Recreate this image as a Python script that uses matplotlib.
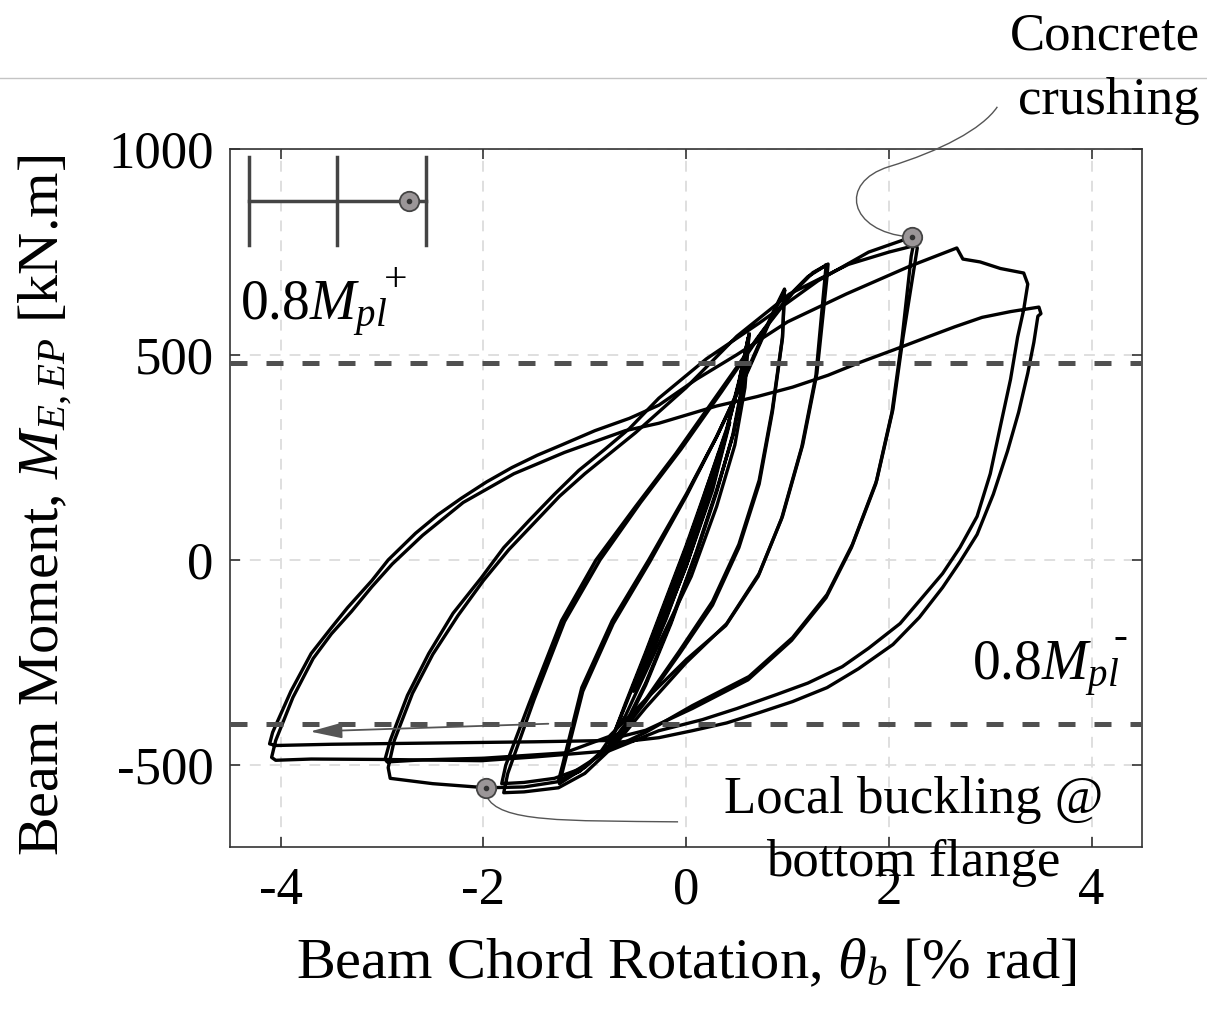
import numpy as np
import matplotlib
matplotlib.use("Agg")
import matplotlib.pyplot as plt
from matplotlib.path import Path
from matplotlib.patches import PathPatch
from matplotlib.lines import Line2D

plt.rcParams['font.family'] = ['Liberation Serif', 'DejaVu Serif']
plt.rcParams['mathtext.fontset'] = 'custom'
plt.rcParams['mathtext.rm'] = 'Liberation Serif'
plt.rcParams['mathtext.it'] = 'Liberation Serif:italic'
plt.rcParams['axes.unicode_minus'] = False

# hysteresis history, one array pair per loading level (rotation in % rad, moment in kN.m)
rot_l1 = [0.0, 0.2, 0.32, 0.2, 0.0, -0.2, -0.38, -0.2, 0.0, 0.2, 0.33, 0.21, 0.0, -0.2, -0.38, -0.2, 0.0]
mom_l1 = [0, 170, 260, 150, -5, -140, -240, -120, 20, 175, 265, 150, -10, -145, -245, -125, 15]

rot_l2 = [0.0, 0.25, 0.42, 0.25, 0.0, -0.3, -0.5, -0.3, 0.0, 0.25, 0.43, 0.26, 0.0, -0.3, -0.52, -0.3, 0.0]
mom_l2 = [15, 200, 330, 170, -15, -200, -310, -180, 20, 205, 335, 170, -15, -205, -320, -185, 20]

rot_l3 = [0.0, 0.2, 0.4, 0.52, 0.62, 0.57, 0.47, 0.3, 0.1, -0.15, -0.4, -0.6, -0.76, -0.6, -0.4, -0.2,
          0.0, 0.2, 0.4, 0.52, 0.61, 0.56, 0.46, 0.3, 0.1, -0.15, -0.4, -0.6, -0.75, -0.6, -0.4, -0.2,
          0.0, 0.2, 0.4, 0.52, 0.62]
mom_l3 = [20, 170, 315, 430, 548, 440, 310, 170, 20, -150, -300, -400, -452, -355, -230, -100,
          30, 170, 315, 430, 540, 435, 305, 165, 15, -155, -305, -405, -448, -350, -225, -95,
          35, 175, 320, 435, 550]

rot_l4 = [0.62, 0.58, 0.48, 0.3, 0.05, -0.3, -0.6, -0.85, -1.05, -1.26,
          -1.22, -1.03, -0.73, -0.37, 0.0, 0.3, 0.6, 0.85, 0.97,
          0.95, 0.85, 0.72, 0.52, 0.26, -0.07, -0.4, -0.7, -1.0, -1.25,
          -1.21, -1.02, -0.72, -0.36, 0.0, 0.3, 0.6, 0.85, 0.97]
mom_l4 = [550, 420, 280, 130, -40, -220, -380, -470, -515, -538,
          -500, -311, -148, 0, 160, 300, 460, 600, 660,
          543, 367, 194, 38, -101, -223, -340, -440, -505, -545,
          -505, -320, -155, -5, 155, 300, 455, 595, 655]

rot_l5 = [0.97, 0.95, 0.85, 0.72, 0.52, 0.26, -0.07, -0.4, -0.7, -1.0, -1.3, -1.6, -1.82,
          -1.78, -1.55, -1.23, -0.89, -0.5, -0.1, 0.3, 0.7, 1.0, 1.2, 1.40,
          1.39, 1.29, 1.15, 0.95, 0.72, 0.40, 0.0, -0.4, -0.7, -1.0, -1.26, -1.6, -1.80,
          -1.76, -1.5, -1.2, -0.85, -0.45, -0.05, 0.35, 0.75, 1.05, 1.25, 1.38]
mom_l5 = [655, 540, 360, 185, 30, -110, -230, -345, -440, -505, -532, -542, -545,
          -500, -350, -148, 0, 130, 260, 400, 540, 640, 690, 721,
          691, 455, 281, 106, -33, -155, -250, -360, -450, -520, -555, -565, -567,
          -520, -340, -150, 0, 140, 270, 410, 555, 650, 700, 718]

rot_l6 = [1.38, 1.37, 1.28, 1.14, 0.94, 0.71, 0.39, 0.0, -0.4, -0.76, -1.2, -2.0, -2.6, -2.95, -2.97,
          -2.92, -2.75, -2.54, -2.3, -2.02, -1.8, -1.55, -1.3, -1.06, -0.8, -0.56, -0.27, 0.2, 0.72, 1.3, 1.8, 2.23,
          2.28, 2.14, 2.04, 1.88, 1.64, 1.39, 1.05, 0.62, 0.06, -0.4, -0.76, -1.26, -1.6, -1.97, -2.5, -2.92, -2.94,
          -2.88, -2.7, -2.5, -2.25, -2.0, -1.75, -1.5, -1.25, -1.0, -0.5, 0.0, 0.5, 1.02, 1.6, 2.0, 2.24]
mom_l6 = [718, 690, 450, 275, 100, -40, -160, -243, -340, -430, -470, -483, -487, -492, -485,
          -440, -330, -228, -130, -43, 30, 96, 160, 218, 270, 320, 394, 490, 577, 680, 750, 787,
          760, 543, 367, 194, 38, -84, -189, -284, -355, -420, -462, -540, -553, -555, -545, -532, -506,
          -440, -325, -230, -135, -50, 25, 90, 155, 210, 310, 420, 545, 648, 720, 750, 765]

rot_l7 = [2.24, 2.22, 2.13, 2.03, 1.87, 1.63, 1.38, 1.04, 0.61, 0.06, -0.4, -0.8, -1.5, -2.5, -3.5, -4.05, -4.11,
          -4.08, -3.9, -3.70, -3.5, -3.34, -3.1, -2.94, -2.67, -2.45, -2.22, -1.97, -1.72, -1.47, -1.23, -0.9,
          -0.56, -0.27, 0.1, 0.5, 1.0, 1.58, 2.2, 2.67,
          2.73, 2.90, 3.10, 3.33, 3.37,
          3.33, 3.27, 3.2, 3.10, 3.0, 2.87, 2.7, 2.53, 2.3, 2.11, 1.8, 1.54, 1.2, 0.89, 0.5, 0.16, -0.27,
          -0.76, -1.5, -2.02, -3.0, -3.7, -4.05, -4.09,
          -4.05, -3.88, -3.68, -3.5, -3.30, -3.1, -2.90, -2.6, -2.2, -1.7, -1.2, -0.6, -0.27, 0.3, 0.7, 1.05,
          1.4, 1.7, 2.05, 2.38, 2.65, 2.92, 3.2, 3.48,
          3.50, 3.47, 3.43, 3.37, 3.28, 3.17, 3.03, 2.87, 2.7, 2.53, 2.3, 2.04, 1.7, 1.39, 1.05, 0.72, 0.4,
          0.06, -0.27, -0.7]
mom_l7 = [765, 740, 540, 360, 185, 30, -92, -196, -292, -362, -415, -440, -443, -446, -449, -452, -448,
          -420, -320, -228, -165, -116, -50, 0, 65, 110, 150, 190, 225, 255, 280, 315,
          345, 377, 440, 500, 580, 648, 715, 760,
          733, 726, 710, 699, 672,
          610, 543, 440, 326, 210, 106, 30, -33, -100, -155, -215, -260, -300, -328, -362, -389, -416,
          -465, -480, -489, -486, -485, -488, -481,
          -440, -335, -240, -180, -125, -65, -10, 60, 140, 210, 262, 315, 333, 375, 398, 421,
          450, 480, 512, 543, 568, 591, 605, 616,
          600, 594, 530, 455, 360, 265, 160, 62, -5, -67, -140, -206, -265, -311, -345, -372, -397,
          -416, -433, -445]

levels = [(rot_l1, mom_l1), (rot_l2, mom_l2), (rot_l3, mom_l3), (rot_l4, mom_l4),
          (rot_l5, mom_l5), (rot_l6, mom_l6), (rot_l7, mom_l7)]

# 0.8 Mpl limits
mpl_pos = 480
mpl_neg = -400

# damage points
crush_pt = (2.23, 787)
buckle_pt = (-1.97, -555)

# inset scale bar
bar_x = [-4.31, -3.44, -2.57]
bar_y = 874
bar_lo, bar_hi = 767, 982
bar_dot = -2.73

fig = plt.figure(figsize=(12.07, 10.14), dpi=100)
ax = fig.add_axes([0.1906, 0.1644, 0.7558, 0.6882])

ax.set_xlim(-4.5, 4.5)
ax.set_ylim(-700, 1000)
ax.set_xticks([-4, -2, 0, 2, 4])
ax.set_yticks([-500, 0, 500, 1000])
ax.grid(True, color='#dcdcdc', linestyle=(0, (6, 5)), linewidth=1.3)
ax.set_axisbelow(True)

for r, m in levels:
    ax.plot(r, m, color='black', lw=2.4, solid_joinstyle='round', zorder=3)

ax.axhline(mpl_pos, color='#505050', lw=3.6, linestyle=(0, (3.4, 3.8)), zorder=4)
ax.axhline(mpl_neg, color='#505050', lw=3.6, linestyle=(0, (3.4, 3.8)), zorder=4)

# inset bar
ax.plot([bar_x[0], bar_x[-1]], [bar_y, bar_y], color='#444444', lw=2.5)
for bx in bar_x:
    ax.plot([bx, bx], [bar_lo, bar_hi], color='#444444', lw=2.5)

for px, py in [crush_pt, buckle_pt, (bar_dot, bar_y)]:
    ax.plot(px, py, 'o', ms=14, mfc='#9b9698', mec='#444444', mew=1.3, zorder=6)
    ax.plot(px, py, 'o', ms=3, color='#333333', zorder=7)

# connectors
verts = [(2.2, 787), (1.6, 800), (1.5, 920), (2.0, 958),
         (2.5, 996), (2.92, 1049), (3.07, 1104)]
codes = [Path.MOVETO] + [Path.CURVE4] * 6
ax.add_patch(PathPatch(Path(verts, codes), fc='none', ec='#555555', lw=1.0, clip_on=False, zorder=5))
verts = [(-1.97, -575), (-1.85, -640), (-1.2, -635), (-0.08, -638)]
codes = [Path.MOVETO] + [Path.CURVE4] * 3
ax.add_patch(PathPatch(Path(verts, codes), fc='none', ec='#555555', lw=1.0, clip_on=False, zorder=5))

ax.annotate('', xy=(-3.71, -418), xytext=(-1.36, -399),
            arrowprops=dict(arrowstyle='-|>,head_length=0.9,head_width=0.22', color='#555555',
                            lw=1.3, mutation_scale=22, shrinkA=0, shrinkB=0), zorder=5)

# texts
ax.text(-4.40, 584, r'$0.8M_{pl}$', fontsize=40, va='baseline', ha='left', zorder=6)
ax.text(-2.98, 655, '+', fontsize=30, va='baseline', ha='left', zorder=6)
ax.text(2.82, -294, r'$0.8M_{pl}$', fontsize=40, va='baseline', ha='left', zorder=6)
ax.text(4.22, -215, '-', fontsize=30, va='baseline', ha='left', zorder=6)
ax.text(2.24, -527, 'Local buckling @\nbottom flange', fontsize=38, ha='center', va='top',
        linespacing=1.4, zorder=6, clip_on=False)
fig.text(0.994, 0.988, 'Concrete\ncrushing', fontsize=38, ha='right', va='top',
         multialignment='right', linespacing=1.45)

fig.add_artist(Line2D([0, 1], [0.923, 0.923], color='#c4c4c4', lw=1.0))

ax.set_xlabel(r'Beam Chord Rotation, $\theta_b$ [% rad]', fontsize=42)
ax.set_ylabel(r'Beam Moment, $M_{E,EP}$ [kN.m]', fontsize=42)
ax.xaxis.set_label_coords(0.5, -0.13)
ax.yaxis.set_label_coords(-0.17, 0.49)

ax.tick_params(direction='in', length=7, width=1.2, colors='#333333', labelcolor='black',
               labelsize=38, top=True, right=True)
ax.tick_params(axis='x', pad=14)
ax.tick_params(axis='y', pad=12)
for s in ax.spines.values():
    s.set_color('#333333')
    s.set_linewidth(1.2)

fig.savefig('out.png', dpi=100)
